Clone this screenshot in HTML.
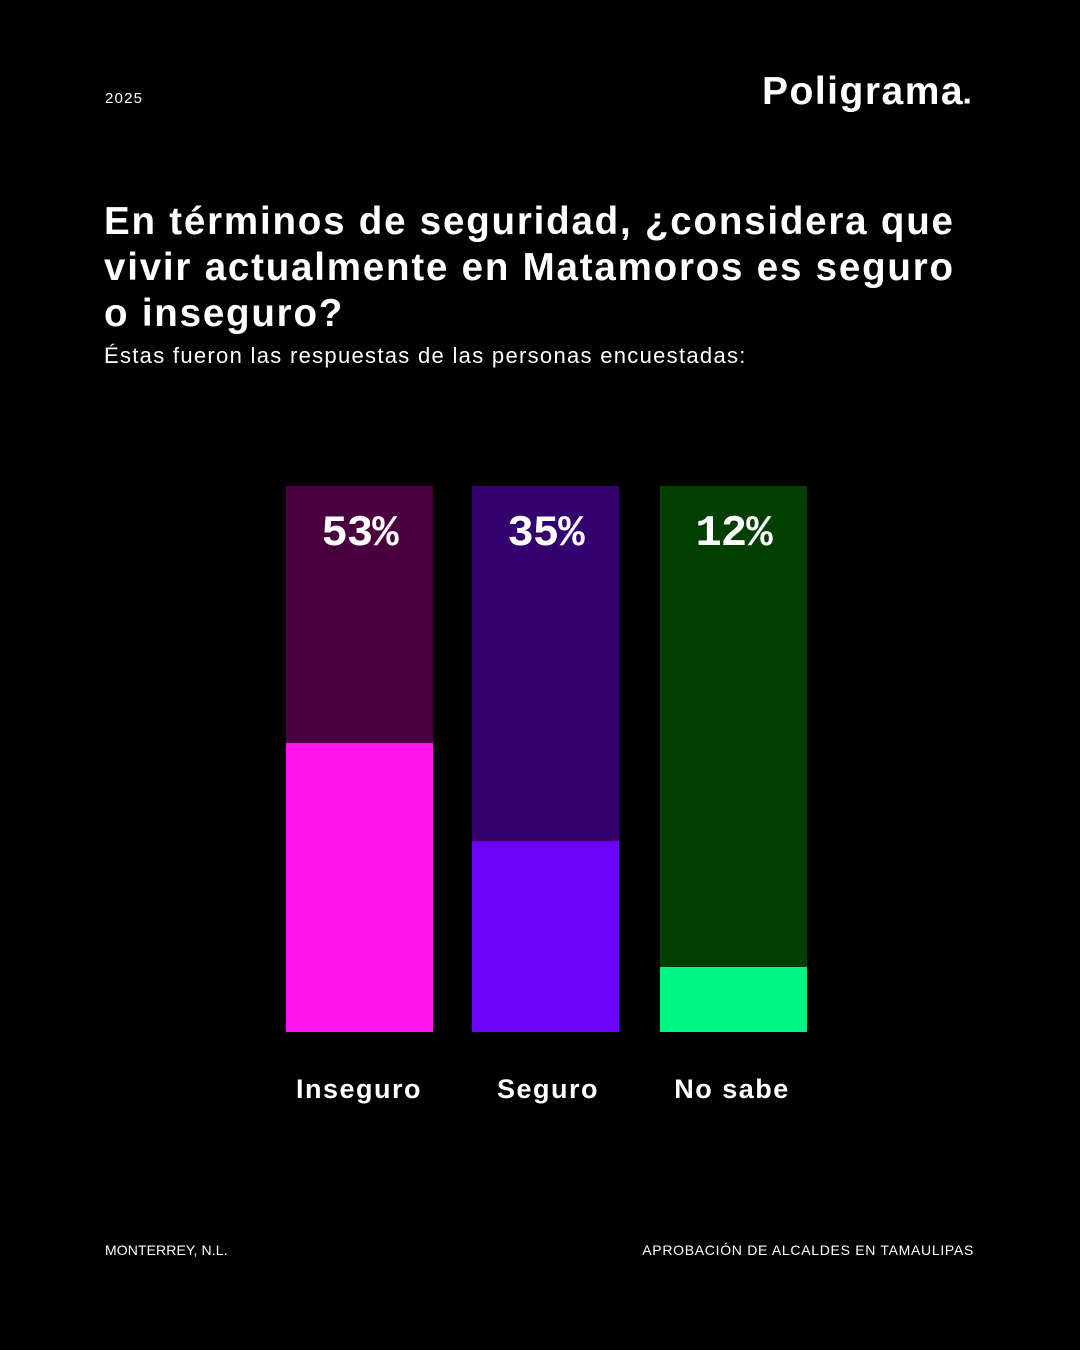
<!DOCTYPE html>
<html><head><meta charset="utf-8"><style>
body{margin:0;width:1080px;height:1350px;background:#000;position:relative;overflow:hidden;font-family:"Liberation Sans",sans-serif;color:#fff}
.a{position:absolute}
.bar{position:absolute;top:486px;width:147px;height:546px}
.bar div{position:absolute;left:0;right:0;bottom:0}
.pct{position:absolute;top:509px;width:147px;text-align:center;font-family:"Liberation Mono",monospace;font-weight:bold;font-size:44px;letter-spacing:-1px}
.lab{position:absolute;top:1074px;width:200px;text-align:center;font-weight:bold;font-size:27px;letter-spacing:1.5px}
</style></head><body>
<div class="a" style="left:105px;top:90px;font-size:15px;letter-spacing:1.2px">2025</div>
<div class="a" style="left:762px;top:70px;font-size:39px;font-weight:bold;letter-spacing:1.5px">Poligrama<span style="font-size:10px">■</span></div>
<div class="a" style="left:104px;top:199px;width:870px;font-size:38.5px;font-weight:bold;line-height:46px;letter-spacing:1.8px">En términos de seguridad, ¿considera que vivir actualmente en Matamoros es seguro o inseguro?</div>
<div class="a" style="left:104px;top:343px;font-size:22px;letter-spacing:1.3px">Éstas fueron las respuestas de las personas encuestadas:</div>
<div class="bar" style="left:286px;background:#4a003f"><div style="top:257px;background:#ff14ee"></div></div>
<div class="bar" style="left:472px;background:#340070"><div style="top:355px;background:#6a05fa"></div></div>
<div class="bar" style="left:660px;background:#003f00"><div style="top:481px;background:#00f583"></div></div>
<div class="pct" style="left:286px">53%</div>
<div class="pct" style="left:472px">35%</div>
<div class="pct" style="left:660px">12%</div>
<div class="lab" style="left:259px">Inseguro</div>
<div class="lab" style="left:448px">Seguro</div>
<div class="lab" style="left:632px">No sabe</div>
<div class="a" style="left:105px;top:1242px;font-size:14px;letter-spacing:0.1px">MONTERREY, N.L.</div>
<div class="a" style="right:106px;top:1242px;font-size:14px;letter-spacing:0.7px">APROBACIÓN DE ALCALDES EN TAMAULIPAS</div>
</body></html>
